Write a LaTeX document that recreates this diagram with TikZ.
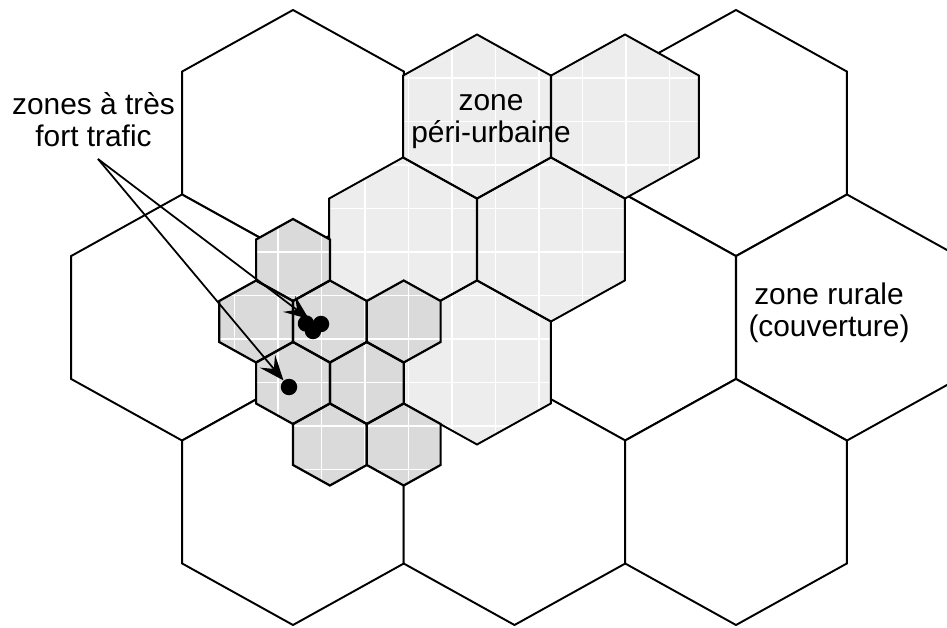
\documentclass[tikz,border=0pt]{standalone}
\usepackage{fontspec}
\setmainfont{Liberation Sans}
\usetikzlibrary{arrows.meta}
\definecolor{perifill}{HTML}{EDEDED}
\definecolor{urbfill}{HTML}{DADADA}
\newcommand\hexpath[4]{(#1,#2-#4) -- (#1+#3,#2-#4/2) -- (#1+#3,#2+#4/2) -- (#1,#2+#4) -- (#1-#3,#2+#4/2) -- (#1-#3,#2-#4/2) -- cycle}
\begin{document}
\begin{tikzpicture}[x=0.02cm,y=-0.02cm,
  hexline/.style={draw=black, line width=1.1pt, line join=miter},
  smallhex/.style={draw=black, line width=1.25pt, line join=miter},
  gridw/.style={draw=white, line width=0.7pt},
  lbl/.style={inner sep=0pt, align=center, font=\fontsize{17}{18.3}\selectfont},
  dotn/.style={circle, fill=black, inner sep=0pt, minimum size=16.5*0.02cm},
  arr/.style={draw=black, line width=1pt, -{Stealth[length=0.5cm, width=0.4cm, inset=0.2cm]}}]
\useasboundingbox (0,0) rectangle (947,628);
\clip (0,0) rectangle (947,628);
% large cells (rural coverage)
\foreach \cx/\cy in {293/133, 736/133, 182/317.5, 625/317.5, 847/317.5, 293/502, 514.5/502, 736/502}
  \draw[hexline, fill=white] \hexpath{\cx}{\cy}{110.8}{123};
% medium cells (peri-urban)
\foreach \cx/\cy in {477/116.5, 625/116.5, 403/239.5, 551/239.5, 477/362.5}
  \fill[perifill] \hexpath{\cx}{\cy}{73.8}{82};
\begin{scope}
  \clip \hexpath{477}{116.5}{73.8}{82} \hexpath{625}{116.5}{73.8}{82} \hexpath{403}{239.5}{73.8}{82} \hexpath{551}{239.5}{73.8}{82} \hexpath{477}{362.5}{73.8}{82};
  \foreach \gx in {234.5,278,...,713} \draw[gridw] (\gx,0) -- (\gx,628);
  \foreach \gy in {34.5,78,...,513} \draw[gridw] (0,\gy) -- (947,\gy);
\end{scope}
\foreach \cx/\cy in {477/116.5, 625/116.5, 403/239.5, 551/239.5, 477/362.5}
  \draw[hexline] \hexpath{\cx}{\cy}{73.8}{82};
% small cells (very high traffic)
\foreach \cx/\cy in {293/260, 256.1/321.5, 329.9/321.5, 403.7/321.5, 293/383, 366.8/383, 329.9/444.5, 403.7/444.5}
  \fill[urbfill] \hexpath{\cx}{\cy}{36.9}{41};
\begin{scope}
  \clip \hexpath{293}{260}{36.9}{41} \hexpath{256.1}{321.5}{36.9}{41} \hexpath{329.9}{321.5}{36.9}{41} \hexpath{403.7}{321.5}{36.9}{41} \hexpath{293}{383}{36.9}{41} \hexpath{366.8}{383}{36.9}{41} \hexpath{329.9}{444.5}{36.9}{41} \hexpath{403.7}{444.5}{36.9}{41};
  \foreach \gx in {234.5,278,...,713} \draw[gridw] (\gx,0) -- (\gx,628);
  \foreach \gy in {34.5,78,...,513} \draw[gridw] (0,\gy) -- (947,\gy);
\end{scope}
\foreach \cx/\cy in {293/260, 256.1/321.5, 329.9/321.5, 403.7/321.5, 293/383, 366.8/383, 329.9/444.5, 403.7/444.5}
  \draw[smallhex] \hexpath{\cx}{\cy}{36.9}{41};
% traffic spots
\node[dotn] (ca) at (306,323.5) {};
\node[dotn] (cb) at (321,324) {};
\node[dotn] (cc) at (313,331) {};
\node[dotn] (sp) at (289,387) {};
\coordinate (tipa) at (309,319);
% labels
\node[lbl, anchor=base] (lt) at (93.5,147) {zones à très\\fort trafic};
\node[lbl, anchor=base] (lp) at (491,143) {zone\\péri-urbaine};
\node[lbl, anchor=base] (lr) at (829,337) {zone rurale\\(couverture)};
\coordinate (apex) at (98,159);
\draw[arr] (apex) -- (tipa);
\draw[arr] (apex) -- (sp);
\end{tikzpicture}
\end{document}
